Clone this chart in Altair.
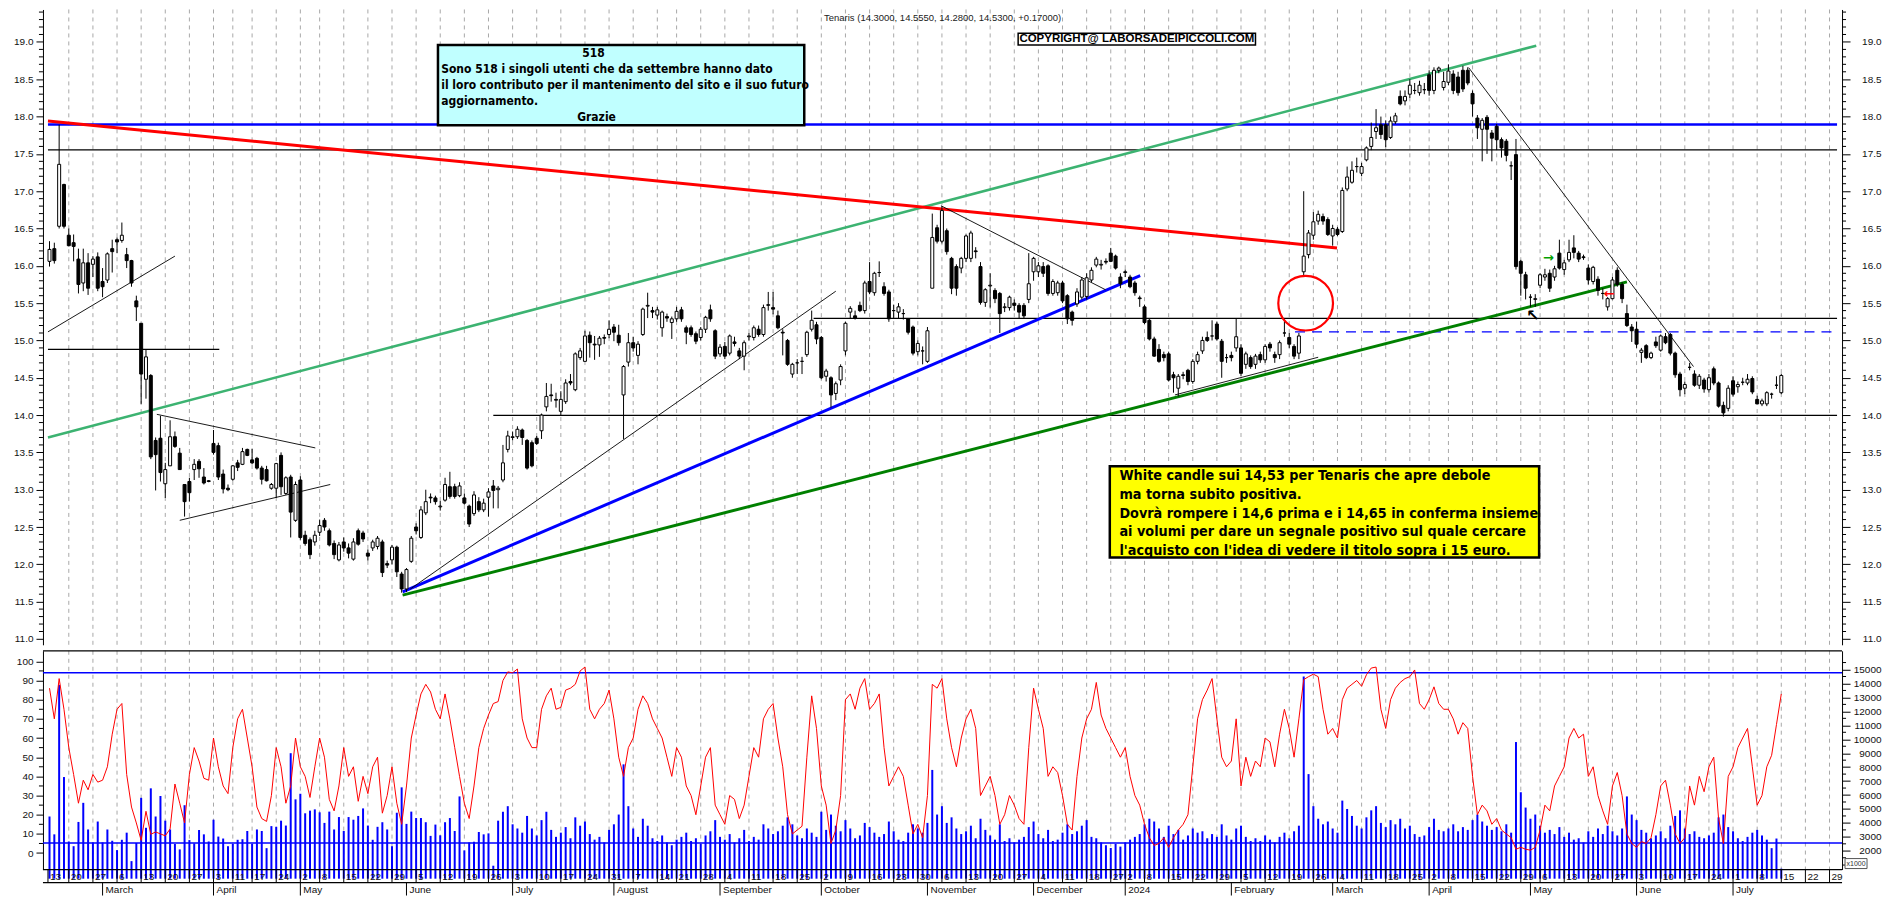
import altair as alt
import pandas as pd

# ---------------------------------------------------------------- data
# daily candles, trading-day index 1..360 (14 Feb 2023 .. 15 Jul 2024)
OPEN = [16.06,16.23,16.53,17.09,16.41,16.31,16.09,15.77,16.04,16.02,
        16.12,15.79,15.81,16.23,16.35,16.34,16.15,16.07,15.53,15.23,
        14.48,14.53,13.66,13.69,13.08,13.32,13.71,13.49,13.07,13.11,
        13.27,13.38,13.17,13.12,13.62,13.59,13.21,13.02,13.14,13.36,
        13.34,13.54,13.40,13.42,13.29,13.27,13.02,13.02,13.46,12.95,
        13.17,12.59,13.13,12.39,12.33,12.30,12.43,12.59,12.45,12.28,
        12.06,12.30,12.22,12.07,12.45,12.42,12.15,12.22,12.24,12.30,
        12.01,12.06,12.23,11.87,11.67,12.04,12.50,12.36,12.69,12.90,
        12.89,12.77,12.86,13.04,13.04,12.92,12.89,12.78,12.68,12.84,
        12.73,12.90,13.05,13.00,13.13,13.54,13.70,13.71,13.80,13.66,
        13.63,13.69,13.79,14.11,14.27,14.21,14.05,14.18,14.45,14.34,
        14.77,14.72,15.07,14.95,14.94,15.04,15.08,15.18,15.07,14.27,
        14.71,14.97,14.80,15.08,15.46,15.40,15.34,15.17,15.32,15.24,
        15.29,15.41,15.17,15.17,15.09,15.04,15.15,15.41,15.13,14.82,
        14.92,14.83,14.98,14.86,14.79,15.05,15.04,15.15,15.08,15.47,
        15.44,15.33,15.11,15.00,14.55,14.70,14.72,14.81,15.15,15.21,
        15.04,14.52,14.50,14.29,14.47,14.86,15.38,15.33,15.47,15.40,
        15.79,15.64,15.91,15.72,15.65,15.40,15.38,15.36,15.29,15.18,
        14.85,14.86,14.72,15.70,16.51,16.33,16.47,16.10,15.99,15.97,
        16.10,16.10,16.20,15.99,15.51,15.73,15.67,15.63,15.44,15.44,
        15.50,15.47,15.47,15.55,15.92,15.92,15.99,16.00,15.63,15.64,
        15.77,15.60,15.38,15.49,15.58,15.59,15.81,16.01,16.01,16.06,
        16.17,16.13,15.85,15.92,15.85,15.77,15.57,15.45,15.27,15.02,
        14.88,14.81,14.82,14.54,14.36,14.54,14.60,14.45,14.72,14.86,
        15.04,15.06,15.22,14.99,14.77,14.80,14.90,14.90,14.68,14.77,
        14.68,14.81,14.74,14.95,14.81,14.81,15.10,15.04,14.92,14.83,
        15.92,16.15,16.41,16.60,16.66,16.62,16.40,16.49,16.46,17.03,
        17.12,17.33,17.24,17.42,17.60,17.80,17.89,17.89,17.72,17.93,
        18.27,18.21,18.30,18.35,18.32,18.36,18.56,18.35,18.62,18.39,
        18.46,18.57,18.53,18.62,18.62,18.31,17.98,17.83,17.99,17.78,
        17.87,17.69,17.67,17.34,17.49,16.06,15.88,15.58,15.55,15.74,
        15.85,15.90,15.85,16.17,15.95,16.08,16.24,16.17,16.12,15.97,
        15.79,15.82,15.63,15.45,15.56,15.94,15.75,15.36,15.18,15.15,
        14.84,14.93,14.77,14.98,14.87,15.05,15.08,14.83,14.55,14.36,
        14.64,14.55,14.40,14.47,14.34,14.62,14.43,14.13,14.09,14.46,
        14.38,14.44,14.43,14.49,14.21,14.15,14.15,14.28,14.40,14.30]
HIGH = [16.33,16.31,17.89,17.10,16.50,16.42,16.23,16.23,16.17,16.13,
        16.18,15.97,16.18,16.35,16.38,16.58,16.24,16.08,15.60,15.23,
        14.88,14.55,13.70,13.99,13.36,13.93,13.78,13.56,13.07,13.16,
        13.41,13.41,13.29,13.13,13.80,13.63,13.27,13.07,13.33,13.40,
        13.56,13.55,13.55,13.44,13.32,13.32,13.09,13.36,13.50,13.18,
        13.20,13.11,13.18,12.45,12.36,12.45,12.60,12.62,12.48,12.32,
        12.30,12.36,12.28,12.35,12.48,12.45,12.20,12.33,12.38,12.33,
        12.05,12.26,12.25,11.90,11.95,12.38,12.55,12.78,13.00,12.95,
        12.92,12.85,13.16,13.24,13.08,13.10,12.95,12.80,12.98,12.90,
        12.88,13.02,13.13,13.05,13.60,13.79,13.78,13.85,13.82,13.68,
        13.66,13.72,14.02,14.43,14.42,14.30,14.32,14.48,14.55,14.84,
        14.90,15.13,15.12,15.06,15.06,15.08,15.27,15.22,15.21,14.67,
        15.10,15.05,14.99,15.44,15.64,15.45,15.45,15.40,15.36,15.32,
        15.45,15.45,15.20,15.20,15.12,15.18,15.33,15.48,15.15,14.95,
        14.98,15.08,15.05,14.90,15.00,15.10,15.20,15.20,15.48,15.65,
        15.65,15.40,15.15,15.02,14.70,14.75,14.78,15.13,15.40,15.25,
        15.06,14.62,14.52,14.45,14.68,15.25,15.46,15.40,15.52,15.80,
        16.05,15.92,16.06,15.78,15.68,15.48,15.50,15.42,15.30,15.20,
        15.00,14.92,15.18,16.70,16.55,16.80,16.50,16.12,16.02,16.12,
        16.42,16.47,16.25,16.05,15.70,15.90,15.70,15.65,15.50,15.60,
        15.55,15.50,15.50,16.17,16.12,16.05,16.05,16.02,15.82,15.80,
        15.80,15.62,15.40,15.70,15.85,15.90,15.98,16.12,16.08,16.10,
        16.24,16.15,15.90,15.95,15.88,15.80,15.60,15.48,15.30,15.05,
        14.95,14.85,14.85,14.58,14.55,14.58,14.62,14.75,14.85,15.05,
        15.12,15.27,15.25,15.02,14.82,14.85,15.29,14.95,14.85,14.80,
        14.82,14.85,14.95,14.98,14.85,15.00,15.30,15.10,14.95,15.10,
        17.00,16.48,16.72,16.74,16.70,16.65,16.55,16.52,17.05,17.33,
        17.40,17.45,17.38,17.60,17.92,18.10,18.00,17.95,18.00,18.05,
        18.35,18.35,18.50,18.45,18.48,18.45,18.62,18.66,18.67,18.60,
        18.70,18.62,18.60,18.68,18.66,18.35,18.02,17.98,18.02,17.82,
        17.90,17.72,17.70,17.40,17.70,16.08,15.92,15.62,15.62,15.90,
        15.96,15.95,16.00,16.35,16.08,16.35,16.41,16.20,16.15,16.02,
        16.00,15.86,15.70,15.58,15.85,15.98,15.78,15.48,15.22,15.25,
        14.90,14.95,14.85,15.05,15.08,15.10,15.10,14.85,14.58,14.45,
        14.70,14.60,14.55,14.50,14.55,14.65,14.45,14.18,14.40,14.52,
        14.45,14.50,14.55,14.52,14.26,14.22,14.32,14.30,14.52,14.555]
LOW = [15.99,16.03,16.50,16.50,16.26,16.06,15.63,15.66,15.61,15.85,
       15.66,15.58,15.77,15.91,16.17,16.31,15.97,15.72,15.26,14.15,
       14.22,13.41,12.99,13.11,12.89,13.32,13.56,13.27,12.64,12.84,
       13.13,13.16,13.07,13.10,13.47,13.13,12.95,12.98,13.12,13.25,
       13.33,13.45,13.34,13.27,13.07,13.11,13.00,12.89,12.93,12.93,
       12.36,12.57,12.33,12.25,12.07,12.25,12.38,12.45,12.24,12.07,
       12.04,12.17,12.08,12.05,12.25,12.30,12.05,12.18,12.20,11.83,
       11.95,12.00,11.83,11.62,11.63,12.02,12.40,12.34,12.66,12.82,
       12.80,12.72,12.84,12.88,12.88,12.90,12.80,12.50,12.65,12.70,
       12.70,12.64,12.75,12.75,13.10,13.50,13.66,13.68,13.60,13.27,
       13.30,13.60,13.68,14.05,14.18,14.10,14.00,14.15,14.40,14.32,
       14.74,14.72,14.77,14.74,14.78,14.95,15.03,14.99,14.93,13.68,
       14.65,14.85,14.68,15.06,15.30,15.30,15.28,15.05,15.25,15.02,
       15.25,15.25,14.95,15.05,14.95,15.00,15.10,15.25,14.75,14.78,
       14.75,14.80,14.92,14.75,14.60,15.00,15.00,15.05,15.05,15.40,
       15.35,15.15,14.80,14.66,14.50,14.55,14.55,14.78,15.12,14.95,
       14.48,14.45,14.10,14.20,14.40,14.80,15.30,15.28,15.38,15.36,
       15.62,15.60,15.85,15.60,15.25,15.30,15.30,15.28,15.08,14.80,
       14.80,14.68,14.70,15.70,16.30,16.30,16.15,15.62,15.60,15.90,
       16.05,16.05,16.10,15.48,15.45,15.44,15.50,15.10,15.38,15.40,
       15.40,15.30,15.30,15.50,15.80,15.85,15.85,15.60,15.60,15.60,
       15.50,15.22,15.20,15.45,15.55,15.55,15.78,15.98,15.95,16.02,
       16.05,15.95,15.70,15.85,15.70,15.60,15.45,15.22,15.00,14.78,
       14.70,14.72,14.45,14.30,14.25,14.48,14.40,14.42,14.68,14.82,
       14.98,15.00,15.00,14.50,14.70,14.72,14.85,14.52,14.62,14.62,
       14.62,14.70,14.70,14.85,14.70,14.75,15.05,14.90,14.75,14.75,
       15.85,16.10,16.35,16.55,16.55,16.40,16.27,16.40,16.44,17.00,
       17.10,17.25,17.20,17.40,17.55,17.70,17.70,17.59,17.70,17.90,
       18.15,18.15,18.25,18.30,18.28,18.30,18.28,18.30,18.58,18.35,
       18.42,18.30,18.28,18.33,18.42,18.00,17.70,17.40,17.50,17.40,
       17.55,17.45,17.40,17.15,15.95,15.60,15.55,15.45,15.45,15.70,
       15.80,15.65,15.80,15.95,15.88,16.05,16.10,16.05,16.08,15.75,
       15.75,15.60,15.55,15.40,15.55,15.72,15.50,15.18,14.98,14.90,
       14.70,14.75,14.75,14.90,14.85,14.95,14.80,14.50,14.25,14.28,
       14.60,14.38,14.35,14.30,14.30,14.40,14.10,13.98,14.05,14.25,
       14.30,14.40,14.40,14.28,14.15,14.12,14.12,14.22,14.35,14.28]
CLOSE = [16.22,16.07,17.36,16.53,16.27,16.26,15.75,16.04,15.70,16.09,
         15.70,15.72,16.16,16.19,16.32,16.41,16.07,15.77,15.45,14.55,
         14.78,13.44,13.47,13.23,13.27,13.71,13.58,13.27,12.84,12.96,
         13.34,13.28,13.09,13.11,13.50,13.17,13.01,13.00,13.32,13.30,
         13.51,13.46,13.36,13.29,13.14,13.12,13.07,13.35,13.04,13.16,
         12.70,13.07,12.36,12.28,12.13,12.39,12.52,12.50,12.26,12.13,
         12.26,12.22,12.15,12.30,12.27,12.34,12.11,12.30,12.35,11.89,
         11.99,12.23,11.90,11.67,11.93,12.35,12.45,12.73,12.84,12.89,
         12.84,12.78,13.07,12.91,12.91,13.05,12.82,12.54,12.93,12.73,
         12.82,12.97,12.99,13.02,13.36,13.72,13.71,13.81,13.70,13.29,
         13.32,13.62,14.00,14.25,14.26,14.20,14.21,14.43,14.43,14.82,
         14.86,15.06,14.97,14.94,15.03,15.03,15.15,15.11,14.97,14.65,
         14.97,14.90,14.95,15.42,15.47,15.38,15.41,15.38,15.30,15.29,
         15.39,15.29,15.11,15.08,14.99,15.15,15.31,15.29,14.79,14.91,
         14.79,15.06,14.96,14.79,14.97,15.06,15.17,15.08,15.44,15.48,
         15.42,15.17,15.10,14.68,14.68,14.70,14.72,15.11,15.27,15.02,
         14.50,14.59,14.27,14.42,14.65,15.23,15.43,15.30,15.40,15.77,
         15.65,15.90,15.91,15.63,15.29,15.40,15.45,15.36,15.11,14.83,
         14.96,14.86,15.13,16.38,16.33,16.74,16.19,15.70,15.70,16.10,
         16.40,16.44,16.19,15.51,15.68,15.74,15.56,15.36,15.45,15.58,
         15.47,15.38,15.33,15.76,16.10,16.00,15.90,15.63,15.79,15.77,
         15.53,15.29,15.27,15.65,15.81,15.84,15.94,16.09,16.02,16.05,
         16.06,15.97,15.76,15.91,15.72,15.64,15.56,15.24,15.02,14.79,
         14.72,14.77,14.47,14.50,14.52,14.53,14.45,14.72,14.81,15.00,
         15.00,15.06,15.02,14.72,14.77,14.77,15.05,14.56,14.82,14.65,
         14.79,14.74,14.92,14.90,14.77,14.97,15.10,14.95,14.79,15.06,
         16.13,16.44,16.59,16.69,16.60,16.42,16.50,16.42,17.01,17.19,
         17.28,17.33,17.33,17.58,17.72,17.85,17.76,17.69,17.94,18.01,
         18.17,18.27,18.42,18.35,18.42,18.36,18.35,18.62,18.65,18.47,
         18.61,18.35,18.32,18.37,18.45,18.17,17.85,17.95,17.83,17.71,
         17.69,17.58,17.48,17.34,15.99,15.90,15.70,15.58,15.56,15.88,
         15.88,15.70,15.96,15.97,16.04,16.18,16.18,16.09,16.11,15.81,
         15.98,15.67,15.63,15.56,15.81,15.75,15.56,15.20,15.13,14.95,
         14.87,14.77,14.83,14.93,15.06,14.97,14.83,14.54,14.34,14.41,
         14.64,14.40,14.52,14.35,14.50,14.43,14.12,14.03,14.36,14.28,
         14.41,14.44,14.48,14.31,14.15,14.19,14.30,14.28,14.40,14.53]

# volume bars (right scale, units as labelled), index 1..360
VOLUME = [4460,3180,13900,7290,2670,2330,4070,5440,3530,2600,
          4100,2600,3530,2720,2050,2790,3300,1260,2560,5800,
          3650,6480,4460,5930,4160,3530,2490,2100,5270,2770,
          2530,3490,3180,2670,4230,3020,2880,2330,2490,2790,
          2830,3420,2490,3530,3420,2190,3770,3720,4160,3810,
          9000,5690,6090,4690,4880,4970,4760,4000,4810,3530,
          4420,3420,4420,4230,4500,5040,3810,2790,3720,4050,
          3530,2330,4730,6550,3930,4810,4350,4350,4050,3070,
          3880,3110,4050,4350,3420,5900,2030,2600,2650,3350,
          3180,3250,930,4160,4800,5200,3900,3600,3300,4500,
          3600,3100,4200,4800,3500,3000,3300,3700,2900,4400,
          3800,4100,3200,2800,3000,2600,3500,3900,4600,8200,
          5200,3600,3000,4300,3800,2900,2700,3100,2600,2400,
          2800,3000,3300,2700,2900,2500,3100,3400,4200,3000,
          2800,3200,2600,2900,3500,2700,3000,2800,3900,3600,
          3200,3400,3800,4400,3900,3100,2900,3600,3300,3000,
          4800,3500,4600,3800,3400,4200,3600,2900,3100,4000,
          3700,3300,3000,3200,4100,3400,2800,2700,3300,3900,
          3600,3300,4000,7800,4600,5200,4000,4400,3600,3200,
          3400,3800,2900,4300,3500,3100,2800,3900,2700,2900,
          2600,2800,3000,3700,4100,3200,2900,3500,2700,2800,
          3300,3900,3200,3400,3800,4200,3000,2900,2600,2400,
          2200,2500,2300,2600,2800,3000,3200,3900,4300,4100,
          3600,3000,3800,3200,3500,2800,3100,3600,3300,3400,
          2900,3200,3000,3900,3100,2800,3600,3800,3000,2700,
          2900,2700,3100,2800,2600,3000,3300,2900,3400,3800,
          14500,7500,5200,4300,3900,4100,3600,3300,5600,5000,
          4500,3800,3600,4400,4900,5200,4000,3700,4200,3900,
          4300,3600,3800,3200,3000,3100,3700,4300,3500,3400,
          3600,3900,3400,3700,3500,4200,4600,4100,3800,3500,
          3700,3400,3900,3300,9800,6200,5100,4300,4600,3800,
          3300,3500,3200,3700,3000,3300,2800,2900,2600,3400,
          3000,3600,3200,3800,3400,3100,3600,5900,4600,4200,
          3500,3300,2900,3100,3400,2900,3800,4500,4900,3600,
          3200,3400,3000,2900,3100,3300,4400,4600,3700,3400,
          2900,2700,3000,3300,3500,3100,2800,2190,2880,720]
# oscillator (left scale 0..100), index 1..360
OSC = [86,70,91,75,55,41,26,38,33,41,
       37,38,45,62,75,78,41,24,15.7,6.6,
       21.8,9.8,11,10,9,12.6,36,26,15.7,41,
       55,48,39,38,60,45,35,31,55,70,
       75,60,45,24,18,16.5,30,55,45,26,
       35,60,45,40,29,45,60,50,28,22,
       35,55,40,45,27,40,31,45,50,20.8,
       30,45,26,15,35,60,72,83,88,84,
       75,70,83,70,55,40,26,18,35,55,
       65,72,78,79,90,94.5,94,96,70,60,
       55,55,75,82,86,75,76,85,86,88,
       95,97,75,70,75,78,85,70,50,40,
       55,60,75,82,78,70,65,60,50,40,
       55,50,35,30,20,35,50,55,25,20,
       15,30,28,18,25,40,55,50,70,75,
       78,60,45,20,10,12,14,50,82,65,
       35,25,5,12,30,80,83,75,86,91,
       75,78,83,55,35,40,45,40,25,10,
       15,8,30,88,86,91,70,55,45,60,
       70,75,65,30,35,40,30,15,20,30,
       25,18,15,55,86,75,65,40,45,42,
       30,15,12,40,60,70,75,89,72,65,
       60,55,50,55,40,30,25,15,8,4,
       5,8,3,8,12,15,20,45,70,80,
       85,91,70,50,45,48,70,35,50,40,
       48,45,60,58,45,62,75,65,50,70,
       90.5,92,93.3,92,75,62,65,60,80,86,
       88,90,87,93,96.5,97,75,65,80,86,
       89,91,92,95.5,78,75,80,86.7,78,75,
       75,70,62,68,65,40,20,25,22,15,
       18,12,10,8,2,3,2,1.5,3,12,
       25,22,35,40,45,60,65,60,62,40,
       45,30,22,15,35,42,30,10,5,3,
       6,5,8,20,35,38,25,10,5,8,
       35,25,40,32,45,50,18,5,40,45,
       55,60,65,45,25,30,45,51,67,83]
OSC_LEVELS = [94, 5.2]

HOLIDAYS = ["2023-04-07", "2023-04-10", "2023-05-01", "2023-08-15",
            "2023-12-25", "2023-12-26", "2024-01-01", "2024-03-29",
            "2024-04-01", "2024-05-01"]

TITLE = "Tenaris (14.3000, 14.5550, 14.2800, 14.5300, +0.17000)"
COPYRIGHT = "COPYRIGHT@ LABORSADEIPICCOLI.COM"
CYAN_HEAD = ["518", "Grazie"]
CYAN_LINES = ["Sono 518 i singoli utenti che da settembre hanno dato",
              "il loro contributo per il mantenimento del sito e il suo futuro",
              "aggiornamento."]
YELLOW_LINES = ["White candle sui 14,53 per Tenaris che apre debole",
                "ma torna subito positiva.",
                "Dovrà rompere i 14,6 prima e i 14,65 in conferma insieme",
                "ai volumi per dare un segnale positivo sul quale cercare",
                "l'acquisto con l'idea di vedere il titolo sopra i 15 euro."]

# drawn levels and trend lines: (index from, index to, price from, price to)
XMIN, XMAX = 0.68, 371.56
LEVEL_BLACK = [(XMIN, XMAX, 17.554, 17.554), (XMIN, 36.2, 14.88, 14.88),
               (159.4, XMAX, 15.297, 15.297), (93.0, XMAX, 13.995, 13.995)]
LEVEL_BLUE = [(XMIN, XMAX, 17.893, 17.893)]
LEVEL_BLUE_DASH = [(259.2, 371.1, 15.115, 15.115)]
TREND_THIN = [(XMIN, 27.0, 15.115, 16.13), (23.25, 56.1, 14.01, 13.56),
              (28.0, 59.2, 12.59, 13.07), (75.8, 164.0, 11.67, 15.66),
              (185.8, 219.9, 16.805, 15.68), (295.2, 341.8, 18.655, 14.65),
              (234.3, 264.0, 14.27, 14.775)]
TREND_RED = [(XMIN, 267.9, 17.94, 16.24)]
TREND_SEAGREEN = [(XMIN, 309.2, 13.70, 18.95)]
TREND_GREEN = [(74.2, 328.0, 11.587, 15.785)]
TREND_BLUE = [(74.2, 227.1, 11.63, 15.87)]
CIRCLE = [(261.4, 15.5)]
ARROW_GREEN = [(311.8, 16.11, "→")]
ARROW_RED = [(324.3, 15.62, "←")]
ARROW_BLACK = [(308.5, 15.33, "↖")]
BOX_CYAN = [(81.53, 157.46, 18.959, 17.884)]
BOX_COPY = [(201.8, 251.0, 19.118, 18.959)]
BOX_YELLOW = [(220.8, 309.8, 13.315, 12.092)]

# ---------------------------------------------------------------- layout
W, H1, H2 = 1801, 636, 219
PMIN, PMAX = 10.922, 19.435
OMIN, OMAX = -8.6, 105.5
VMIN, VMAX = 655, 16344
FONT = "'Liberation Sans', Arial, sans-serif"
NARROW = "'Liberation Sans Narrow', 'DejaVu Sans Condensed', 'Liberation Sans', sans-serif"

xs = alt.Scale(domain=[XMIN, XMAX], nice=False, zero=False)
ps = alt.Scale(domain=[PMIN, PMAX], nice=False, zero=False)
oscale = alt.Scale(domain=[OMIN, OMAX], nice=False, zero=False)
vscale = alt.Scale(domain=[VMIN, VMAX], nice=False, zero=False)


def xq(f="i"):
    return alt.X(f"{f}:Q", scale=xs, axis=None)


def yq(f, scale, axis=None):
    if axis is None:
        return alt.Y(f"{f}:Q", scale=scale, axis=None)
    return alt.Y(f"{f}:Q", scale=scale, axis=axis)


def mk_axis(orient, values, fmt, right=False, expr=None):
    kw = dict(orient=orient, values=values, format=fmt, title=None, grid=False,
              tickColor="black", domainColor="black", domainWidth=1, tickWidth=1,
              labelFont=FONT, labelFontSize=10, labelColor="#111111",
              labelOverlap=False, labelFlush=False)
    if right:
        kw.update(tickSize=8, labelPadding=31, labelAlign="right",
                  minExtent=39, maxExtent=39)
    else:
        kw.update(tickSize=7, labelPadding=3, minExtent=34, maxExtent=34)
    if expr:
        kw["labelExpr"] = expr
    return alt.Axis(**kw)


# calendar (trading days) -> index
cal = [d for d in pd.bdate_range("2023-02-13", "2024-08-30")
       if d.strftime("%Y-%m-%d") not in HOLIDAYS]
wk_t, wk_l, mo_t, mo_l = [], [], [], []
for i, d in enumerate(cal):
    if i > XMAX:
        break
    if i == 0 or d.isocalendar()[1] != cal[i - 1].isocalendar()[1]:
        wk_t.append(max(i, XMIN))
        wk_l.append(str(d.day))
    if i > 0 and d.month != cal[i - 1].month:
        mo_t.append(i)
        mo_l.append(str(d.year) if d.month == 1 else d.strftime("%B"))
weeks = pd.DataFrame({"t": wk_t, "lab": wk_l})
grid_df = weeks[weeks.t > XMIN + 1]
months = pd.DataFrame({"t": mo_t, "lab": mo_l})


def seg_df(rows):
    return pd.DataFrame(rows, columns=["x1", "x2", "p1", "p2"])


def seg_layer(rows, color, width, dash=None):
    kw = dict(color=color, strokeWidth=width)
    if dash:
        kw["strokeDash"] = dash
    return alt.Chart(seg_df(rows)).mark_rule(**kw).encode(
        x=xq("x1"), x2="x2:Q", y=yq("p1", ps), y2="p2:Q")


def box_layer(rows, fill, width):
    return alt.Chart(seg_df(rows)).mark_rect(fill=fill, stroke="black", strokeWidth=width).encode(
        x=xq("x1"), x2="x2:Q", y=yq("p1", ps), y2="p2:Q")


def text_layer(xs_, ps_, texts, align, size, weight="bold", font=NARROW, color="black"):
    df = pd.DataFrame({"i": xs_, "p": ps_, "t": texts})
    return alt.Chart(df).mark_text(align=align, baseline="middle", font=font, fontSize=size,
                                   fontWeight=weight, color=color).encode(
        x=xq(), y=yq("p", ps), text="t:N")


cdf = pd.DataFrame({"i": range(1, len(OPEN) + 1), "o": OPEN, "h": HIGH, "l": LOW, "c": CLOSE})

# ---------------------------------------------------------------- price panel
grid_top = alt.Chart(grid_df).mark_rule(color="#a8a8a8", strokeWidth=1, strokeDash=[4, 4]).encode(
    x=xq("t"), y=alt.value(0), y2=alt.value(H1))

wicks = alt.Chart(cdf).mark_rule(color="black", strokeWidth=1).encode(
    x=xq(), y=yq("l", ps, mk_axis("left", [11 + 0.5 * k for k in range(17)], ".1f")), y2="h:Q")
bodies = alt.Chart(cdf).mark_bar(size=3, stroke="black", strokeWidth=1).encode(
    x=xq(), y=yq("o", ps), y2="c:Q",
    fill=alt.condition("datum.c > datum.o", alt.value("white"), alt.value("black")))

right_price = alt.Chart(pd.DataFrame({"p": [PMIN]})).mark_point(opacity=0).encode(
    y=yq("p", ps, mk_axis("right", [11 + 0.5 * k for k in range(17)], ".1f", right=True)))

minor_p = pd.DataFrame({"p": [round(11 + 0.1 * k, 2) for k in range(85) if k % 5]})
minor_left = alt.Chart(minor_p).mark_rule(color="black").encode(
    y=yq("p", ps), x=alt.value(-4), x2=alt.value(0))
minor_right = alt.Chart(minor_p).mark_rule(color="black").encode(
    y=yq("p", ps), x=alt.value(W), x2=alt.value(W + 4))

circle = alt.Chart(pd.DataFrame(CIRCLE, columns=["i", "p"])).mark_point(
    shape="circle", size=3000, filled=False, color="#ff0000", strokeWidth=2.2, opacity=1).encode(
    x=xq(), y=yq("p", ps))


def arrow_layer(rows, color, size):
    df = pd.DataFrame(rows, columns=["i", "p", "t"])
    return alt.Chart(df).mark_text(font="DejaVu Sans", fontSize=size, fontWeight="bold",
                                   color=color, baseline="middle").encode(
        x=xq(), y=yq("p", ps), text="t:N")


top = alt.layer(
    grid_top,
    seg_layer(LEVEL_BLACK, "black", 1.3),
    seg_layer(LEVEL_BLUE, "#0000ff", 2.5),
    seg_layer(LEVEL_BLUE_DASH, "#0000ff", 1.2, [10, 7]),
    seg_layer(TREND_SEAGREEN, "#3cb371", 2.5),
    seg_layer(TREND_GREEN, "#008000", 3),
    seg_layer(TREND_BLUE, "#0000ff", 3),
    seg_layer(TREND_RED, "#ff0000", 3),
    seg_layer(TREND_THIN, "black", 0.9),
    wicks, bodies,
    circle,
    arrow_layer(ARROW_GREEN, "#00a000", 13),
    arrow_layer(ARROW_RED, "#ff0000", 13),
    arrow_layer(ARROW_BLACK, "black", 16),
    box_layer(BOX_CYAN, "#c0ffff", 2.5),
    text_layer([113.75, 114.4], [18.848, 17.989], CYAN_HEAD, "center", 12),
    text_layer([82.2] * 3, [18.633, 18.418, 18.202], CYAN_LINES, "left", 12),
    box_layer(BOX_COPY, "white", 1.5),
    text_layer([226.4], [19.038], [COPYRIGHT], "center", 11.5, font=FONT),
    box_layer(BOX_YELLOW, "#ffff00", 2.5),
    text_layer([222.8] * 5, [13.187, 12.926, 12.678, 12.431, 12.183], YELLOW_LINES, "left", 14.3),
    text_layer([186.15], [19.317], [TITLE], "center", 9.5, weight="normal", font=FONT, color="#222222"),
    minor_left, minor_right, right_price,
).resolve_scale(y="independent").properties(width=W, height=H1)

# ---------------------------------------------------------------- indicator panel
vdf = pd.DataFrame({"i": range(1, len(VOLUME) + 1), "v": VOLUME})
odf = pd.DataFrame({"i": range(1, len(OSC) + 1), "o": OSC})

grid_bot = alt.Chart(grid_df).mark_rule(color="#a8a8a8", strokeWidth=1, strokeDash=[4, 4]).encode(
    x=xq("t"), y=alt.value(0), y2=alt.value(H2))
vol_bars = alt.Chart(vdf).mark_bar(size=2, color="#0000ff").encode(
    x=xq(), y=yq("v", vscale, mk_axis("right", list(range(1000, 16000, 1000)), "d", right=True,
                                    expr="datum.value == 1000 ? '' : datum.label")),
    y2=alt.value(H2 - 0.5))
osc_line = alt.Chart(odf).mark_line(color="#ff0000", strokeWidth=1).encode(
    x=xq(), y=yq("o", oscale, mk_axis("left", list(range(0, 101, 10)), "d")))
osc_lv = alt.Chart(pd.DataFrame({"o": OSC_LEVELS})).mark_rule(color="#0000ff", strokeWidth=1.5).encode(
    y=yq("o", oscale), x=alt.value(0), x2=alt.value(W))
sep = alt.Chart(pd.DataFrame({"a": [0, H2, H2 + 13]})).mark_rule(color="black", strokeWidth=1.3).encode(
    y=alt.Y("a:Q", scale=None, axis=None), x=alt.value(0), x2=alt.value(W))
minor_o = alt.Chart(pd.DataFrame({"o": list(range(5, 100, 10))})).mark_rule(color="black").encode(
    y=yq("o", oscale), x=alt.value(-4), x2=alt.value(0))
minor_v = alt.Chart(pd.DataFrame({"v": list(range(1500, 16000, 1000))})).mark_rule(color="black").encode(
    y=yq("v", vscale), x=alt.value(W), x2=alt.value(W + 4))
day_sep = alt.Chart(weeks).mark_rule(color="black").encode(
    x=xq("t"), y=alt.value(H2), y2=alt.value(H2 + 13))
day_lab = alt.Chart(weeks).mark_text(align="left", baseline="middle", dx=2, font=FONT,
                                      fontSize=10, color="#111111").encode(
    x=xq("t"), y=alt.value(H2 + 7.5), text="lab:N")
mon_sep = alt.Chart(months).mark_rule(color="black").encode(
    x=xq("t"), y=alt.value(H2 + 13), y2=alt.value(H2 + 26))
mon_lab = alt.Chart(months).mark_text(align="left", baseline="middle", dx=3, font=FONT,
                                       fontSize=10, color="#111111").encode(
    x=xq("t"), y=alt.value(H2 + 20.5), text="lab:N")
x1000_box = alt.Chart(pd.DataFrame({"a": [0]})).mark_rect(fill="white", stroke="#555555", strokeWidth=1).encode(
    x=alt.value(W + 3), x2=alt.value(W + 25), y=alt.value(H2 - 11), y2=alt.value(H2 - 1))
x1000_txt = alt.Chart(pd.DataFrame({"t": ["x1000"]})).mark_text(font=FONT, fontSize=7, color="#333333").encode(
    x=alt.value(W + 14), y=alt.value(H2 - 6), text="t:N")

bottom = alt.layer(
    grid_bot, osc_lv, vol_bars, osc_line, sep, minor_o, minor_v,
    day_sep, day_lab, mon_sep, mon_lab, x1000_box, x1000_txt,
).resolve_scale(y="independent").properties(width=W, height=H2)

chart = alt.vconcat(top, bottom, spacing=0).properties(
    padding={"left": 0, "top": 0, "right": 0, "bottom": 0}
).configure_view(stroke="transparent")

chart.save("out.html", embed_options={"renderer": "svg", "actions": False})
